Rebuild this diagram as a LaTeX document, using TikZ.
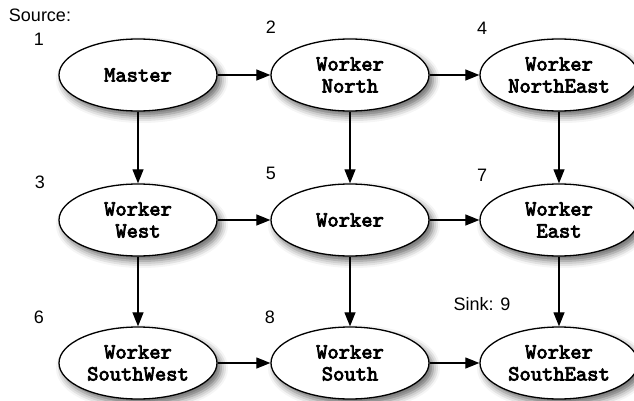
\documentclass[tikz,border=0pt]{standalone}
\usepackage{fontspec}
\setmainfont{Liberation Sans}
\usetikzlibrary{arrows.meta,shapes.geometric,shadows.blur}
% heavy typewriter face for the worker labels
\font\workerfnt="[lmmono10-regular.otf]:embolden=3.5" at 21.5pt
\newcommand\workerfont{\workerfnt\baselineskip=22pt}
\begin{document}
\begin{tikzpicture}[x=1pt,y=1pt,
  worker/.style={ellipse,draw,line width=1.3pt,fill=white,
    minimum width=158pt,minimum height=72pt,inner sep=0pt,
    align=center,font=\workerfont,
    blur shadow={shadow xshift=4pt,shadow yshift=-5pt,
      shadow blur radius=7pt,shadow opacity=60}},
  tag/.style={font=\fontsize{18}{21}\selectfont,inner sep=0pt},
  flow/.style={line width=1.2pt,-{Triangle[length=14pt,width=11pt]}}]
\useasboundingbox (0,0) rectangle (634,400);

% grid of workers
\node[worker] (master) at (138,325) {Master};
\node[worker] (north)  at (350,325) {Worker\\North};
\node[worker] (ne)     at (559,325) {Worker\\NorthEast};
\node[worker] (west)   at (138,180) {Worker\\West};
\node[worker] (center) at (350,180) {Worker};
\node[worker] (east)   at (559,180) {Worker\\East};
\node[worker] (sw)     at (138,37)  {Worker\\SouthWest};
\node[worker] (south)  at (350,37)  {Worker\\South};
\node[worker] (se)     at (559,37)  {Worker\\SouthEast};

% numbering
\node[tag] (src)  at (40,385)  {Source:};
\node[tag] (n1)   at (39,361)  {1};
\node[tag] (n2)   at (271,373) {2};
\node[tag] (n4)   at (482,372) {4};
\node[tag] (n3)   at (40,218)  {3};
\node[tag] (n5)   at (271,227) {5};
\node[tag] (n7)   at (482,225) {7};
\node[tag] (n6)   at (39,83)   {6};
\node[tag] (n8)   at (270,83)  {8};
\node[tag] (sink) at (482,96)  {Sink: 9};

% data flow
\draw[flow] (master) -- (north);
\draw[flow] (north) -- (ne);
\draw[flow] (west) -- (center);
\draw[flow] (center) -- (east);
\draw[flow] (sw) -- (south);
\draw[flow] (south) -- (se);
\draw[flow] (master) -- (west);
\draw[flow] (west) -- (sw);
\draw[flow] (north) -- (center);
\draw[flow] (center) -- (south);
\draw[flow] (ne) -- (east);
\draw[flow] (east) -- (se);
\end{tikzpicture}
\end{document}
